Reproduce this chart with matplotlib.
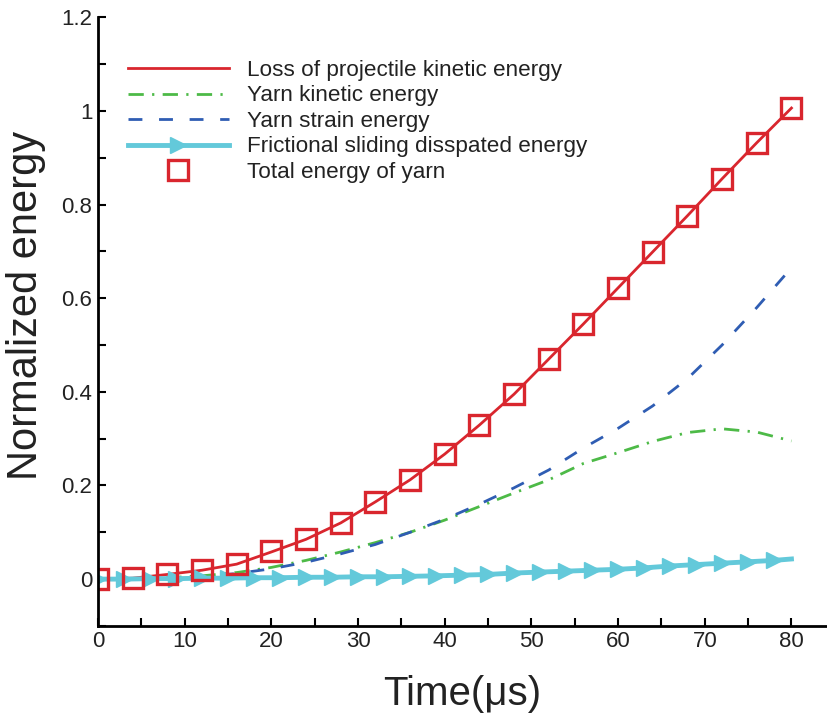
import matplotlib
matplotlib.use("Agg")
import matplotlib.pyplot as plt
from matplotlib.ticker import MultipleLocator

plt.rcParams['font.family'] = ['Liberation Sans', 'DejaVu Sans']

# time (us), sampled every 4 us
t = [0, 4, 8, 12, 16, 20, 24, 28, 32, 36, 40, 44, 48, 52, 56, 60, 64, 68, 72, 76, 80]
loss_ke = [0, 0.002, 0.010, 0.019, 0.032, 0.058, 0.085, 0.120, 0.165, 0.212, 0.267,
           0.329, 0.395, 0.470, 0.545, 0.622, 0.699, 0.776, 0.855, 0.932, 1.006]
total_yarn = [0, 0.002, 0.011, 0.019, 0.032, 0.060, 0.085, 0.120, 0.165, 0.212, 0.267,
              0.329, 0.395, 0.470, 0.545, 0.622, 0.699, 0.776, 0.855, 0.932, 1.006]
yarn_ke = [0, 0, 0.003, 0.007, 0.014, 0.025, 0.040, 0.058, 0.078, 0.100, 0.126,
           0.155, 0.184, 0.212, 0.247, 0.270, 0.294, 0.313, 0.321, 0.314, 0.295]
yarn_strain = [0, 0, 0.002, 0.005, 0.012, 0.022, 0.036, 0.054, 0.074, 0.100, 0.128,
               0.160, 0.195, 0.233, 0.280, 0.322, 0.370, 0.428, 0.500, 0.580, 0.665]

# frictional energy, sampled every 3 us (plus end point)
t_fric = [0, 3, 6, 9, 12, 15, 18, 21, 24, 27, 30, 33, 36, 39, 42, 45, 48, 51, 54,
          57, 60, 63, 66, 69, 72, 75, 78, 80]
friction = [0, 0, 0.001, 0.001, 0.002, 0.002, 0.003, 0.003, 0.004, 0.004, 0.005,
             0.005, 0.006, 0.007, 0.0085, 0.010, 0.013, 0.015, 0.017, 0.019, 0.021,
             0.024, 0.028, 0.031, 0.034, 0.037, 0.040, 0.043]

red = '#d9262e'
green = '#4dba47'
blue = '#2f5db3'
cyan = '#63c9da'
txt = '#222222'

fig = plt.figure(figsize=(8.27, 7.17), dpi=100)
ax = fig.add_axes([0.1185, 0.127, 0.8815, 0.849])

ax.plot(t, loss_ke, color=red, lw=2, label='Loss of projectile kinetic energy')
ax.plot(t, yarn_ke, color=green, lw=2, dashes=[5.5, 3, 0.8, 3], label='Yarn kinetic energy')
ax.plot(t, yarn_strain, color=blue, lw=2, dashes=[5, 6], label='Yarn strain energy')
ax.plot(t_fric, friction, color=cyan, lw=3.5, marker='>', markersize=11,
        markevery=list(range(len(t_fric) - 1)), label='Frictional sliding disspated energy')
ax.plot(t, total_yarn, ls='none', marker='s', markersize=14.5, markerfacecolor='none',
        markeredgecolor=red, markeredgewidth=2.4, label='Total energy of yarn')

ax.set_xlim(0, 84.1)
ax.set_ylim(-0.1, 1.2)
ax.xaxis.set_major_locator(MultipleLocator(10))
ax.xaxis.set_minor_locator(MultipleLocator(5))
ax.yaxis.set_minor_locator(MultipleLocator(0.1))
ax.set_yticks([0, 0.2, 0.4, 0.6, 0.8, 1, 1.2])
ax.set_yticklabels(['0', '0.2', '0.4', '0.6', '0.8', '1', '1.2'])
ax.tick_params(which='both', direction='in', length=6, width=1.5, labelsize=16,
               labelcolor=txt, top=False, right=False, pad=4)

ax.spines['top'].set_visible(False)
ax.spines['right'].set_visible(False)
ax.spines['left'].set_linewidth(2)
ax.spines['bottom'].set_linewidth(2)

ax.set_xlabel('Time(\u03bcs)', fontsize=29, labelpad=16, color=txt)
ax.set_ylabel('Normalized energy', fontsize=30, color=txt)
ax.yaxis.set_label_coords(-0.072, 0.527)

leg = ax.legend(loc='upper left', bbox_to_anchor=(0.013, 0.963), frameon=False, fontsize=16.2,
                handlelength=4.5, handletextpad=0.8, labelspacing=0.2)
for text in leg.get_texts():
    text.set_color(txt)

fig.savefig('out.png', dpi=100)
